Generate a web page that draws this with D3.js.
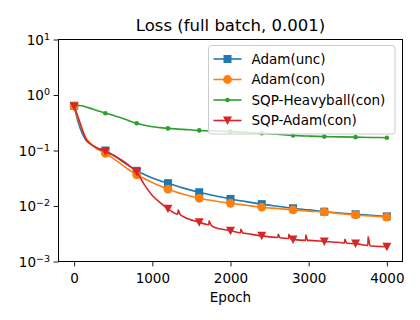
<!DOCTYPE html>
<html>
<head>
<meta charset="utf-8">
<script src="https://cdn.jsdelivr.net/npm/d3@7"></script>
<style>
  html, body { margin: 0; padding: 0; background: #fff; }
  svg { display: block; font-family: "DejaVu Sans", sans-serif; }
</style>
</head>
<body>
<div id="chart"></div>
<script>
// values
const epochs = [0, 50, 100, 150, 200, 300, 400, 500, 600, 700, 800, 900, 1000, 1100, 1200, 1400, 1600,
                1800, 2000, 2200, 2400, 2600, 2800, 3000, 3200, 3400, 3600, 3800, 4000];

const adamUnc = [0.64, 0.33, 0.21, 0.155, 0.133, 0.11, 0.1, 0.083, 0.066, 0.053, 0.043, 0.037, 0.032, 0.0285, 0.0258, 0.021, 0.0177,
                 0.0153, 0.0134, 0.012, 0.0108, 0.0099, 0.0091, 0.0085, 0.0079, 0.0075, 0.0071, 0.0068, 0.0065];
const adamCon = [0.63, 0.37, 0.24, 0.17, 0.138, 0.105, 0.089, 0.072, 0.057, 0.045, 0.0365, 0.031, 0.0265, 0.023, 0.0201, 0.0163, 0.0138,
                 0.0123, 0.0112, 0.0103, 0.0095, 0.009, 0.0085, 0.0081, 0.0078, 0.0073, 0.0069, 0.0066, 0.0063];
const sqpHeavyball = [0.66, 0.65, 0.64, 0.61, 0.58, 0.52, 0.47, 0.43, 0.39, 0.345, 0.31, 0.285, 0.268, 0.258, 0.25, 0.24, 0.23,
                      0.224, 0.219, 0.212, 0.205, 0.196, 0.187, 0.182, 0.178, 0.176, 0.174, 0.172, 0.17];
const sqpAdam = [0.63, 0.4, 0.25, 0.16, 0.135, 0.11, 0.096, 0.082, 0.068, 0.054, 0.041, 0.024, 0.0155, 0.0115, 0.0089, 0.0064, 0.0051,
                 0.0041, 0.0036, 0.0032, 0.0029, 0.0027, 0.0025, 0.0024, 0.0023, 0.0022, 0.0021, 0.0019, 0.00185];
// [epoch, base, peak] of the short spikes on SQP-Adam
const sqpAdamSpikes = [[1330, 0.0071, 0.0085], [1726, 0.0046, 0.0054], [2132, 0.0033, 0.0038], [2609, 0.0027, 0.0031],
                       [2746, 0.0026, 0.0031], [2963, 0.0024, 0.003], [3462, 0.00215, 0.0025], [3760, 0.00195, 0.0028]];

const markEvery = 400;
const xTicks = [0, 1000, 2000, 3000, 4000];
const yTicks = [-3, -2, -1, 0, 1];
const seriesNames = ["Adam(unc)", "Adam(con)", "SQP-Heavyball(con)", "SQP-Adam(con)"];
const seriesColors = ["#1f77b4", "#ff7f0e", "#2ca02c", "#d62728"];
const seriesMarkers = ["square", "circle", "dot", "triangle"];

function renderLossChart(id) {
    d3.select(`#${id}`).select("svg").remove();

    const width = 420;
    const height = 320;
    const margin = { top: 39.5, bottom: 58.5, left: 58.5, right: 17.5 };

    const xScale = d3.scaleLinear()
                    .domain([-200, 4200])
                    .range([margin.left, width - margin.right]);
    const yScale = d3.scaleLog()
                    .domain([1e-3, 1e1])
                    .range([height - margin.bottom, margin.top]);

    const svg = d3.select(`#${id}`)
                    .append("svg")
                    .attr("width", width)
                    .attr("height", height);

    svg.append("defs").append("clipPath").attr("id", "plotClip")
        .append("rect")
        .attr("x", margin.left).attr("y", margin.top)
        .attr("width", width - margin.left - margin.right)
        .attr("height", height - margin.top - margin.bottom);

    const seriesValues = [adamUnc, adamCon, sqpHeavyball, sqpAdam];
    const series = seriesValues.map((vals, i) => {
        let pts = epochs.map((e, j) => [e, vals[j]]);
        if (i === 3) {
            sqpAdamSpikes.forEach(([e, base, peak]) => {
                pts.push([e - 3, base], [e, peak], [e + 25, base * 0.99]);
            });
            pts.sort((a, b) => a[0] - b[0]);
        }
        return {
            name: seriesNames[i],
            color: seriesColors[i],
            marker: seriesMarkers[i],
            points: pts,
            marks: epochs.map((e, j) => [e, vals[j]]).filter(d => d[0] % markEvery === 0)
        };
    });

    const line = d3.line()
                    .x(d => xScale(d[0]))
                    .y(d => yScale(d[1]))
                    .curve(d3.curveMonotoneX);

    function drawMarker(g, type, color) {
        if (type === "square") {
            g.append("rect").attr("x", -4).attr("y", -4).attr("width", 8).attr("height", 8).attr("fill", color);
        } else if (type === "circle") {
            g.append("circle").attr("r", 4.4).attr("fill", color);
        } else if (type === "dot") {
            g.append("circle").attr("r", 2.3).attr("fill", color);
        } else {
            g.append("path").attr("d", "M-4.5,-4 L4.5,-4 L0,4.5 Z").attr("fill", color);
        }
    }

    const plot = svg.append("g").attr("clip-path", "url(#plotClip)");
    series.forEach(s => {
        const g = plot.append("g");
        g.append("path")
            .datum(s.points)
            .attr("fill", "none")
            .attr("stroke", s.color)
            .attr("stroke-width", 1.6)
            .attr("stroke-linejoin", "round")
            .attr("d", line);
        s.marks.forEach(d => {
            const m = g.append("g").attr("transform", `translate(${xScale(d[0])},${yScale(d[1])})`);
            drawMarker(m, s.marker, s.color);
        });
    });

    // axes
    const xAxis = d3.axisBottom(xScale).tickValues(xTicks).tickSize(4.9).tickPadding(3.5).tickFormat(d3.format("d"));
    const yAxis = d3.axisLeft(yScale).tickValues(yTicks.map(p => Math.pow(10, p))).tickSize(4.9).tickPadding(3.5).tickFormat("");

    const gx = svg.append("g")
                .attr("transform", `translate(0, ${height - margin.bottom})`)
                .call(xAxis);
    const gy = svg.append("g")
                .attr("transform", `translate(${margin.left}, 0)`)
                .call(yAxis);
    [gx, gy].forEach(g => {
        g.select(".domain").remove();
        g.selectAll("line").attr("stroke", "#000").attr("stroke-width", 0.9);
        g.selectAll("text").attr("fill", "#000").attr("font-size", 13.5).attr("font-family", "DejaVu Sans");
    });
    gx.selectAll("text").attr("dy", "0.95em");

    // 10^p labels with a real superscript
    gy.selectAll(".tick text").each(function(d) {
        const p = Math.round(Math.log10(d));
        const t = d3.select(this).text(null).attr("x", -8.5).attr("dy", "0.36em");
        t.append("tspan").text("10");
        t.append("tspan").text((p < 0 ? "\u2212" : "") + Math.abs(p))
            .attr("font-size", 9.5).attr("dy", "-0.55em");
    });

    svg.append("rect")
        .attr("x", margin.left).attr("y", margin.top)
        .attr("width", width - margin.left - margin.right)
        .attr("height", height - margin.top - margin.bottom)
        .attr("fill", "none").attr("stroke", "#000").attr("stroke-width", 1);

    svg.append("text")
        .attr("x", (margin.left + width - margin.right) / 2).attr("y", 31)
        .attr("text-anchor", "middle").attr("font-size", 16.5).attr("fill", "#000")
        .text("Loss (full batch, 0.001)");

    svg.append("text")
        .attr("x", (margin.left + width - margin.right) / 2).attr("y", 302)
        .attr("text-anchor", "middle").attr("font-size", 13.5).attr("fill", "#000")
        .text("Epoch");

    // legend
    const legend = svg.append("g").attr("transform", "translate(208.5, 45.5)");
    legend.append("rect")
        .attr("width", 186.5).attr("height", 88.5).attr("rx", 3)
        .attr("fill", "#fff").attr("fill-opacity", 0.8)
        .attr("stroke", "#cccccc").attr("stroke-width", 1);
    series.forEach((s, i) => {
        const row = legend.append("g").attr("transform", `translate(0, ${13.5 + i * 20.5})`);
        row.append("line").attr("x1", 5).attr("x2", 33).attr("stroke", s.color).attr("stroke-width", 1.6);
        drawMarker(row.append("g").attr("transform", "translate(19,0)"), s.marker, s.color);
        row.append("text").attr("x", 43).attr("dy", "0.36em")
            .attr("font-size", 13.5).attr("fill", "#000").text(s.name);
    });
}

renderLossChart("chart");
</script>
</body>
</html>
